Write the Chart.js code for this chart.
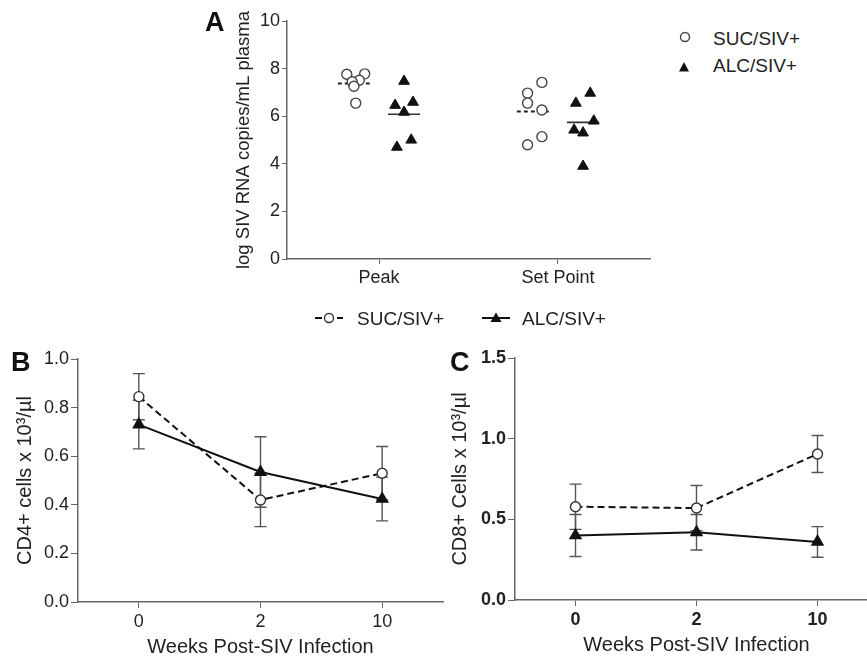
<!DOCTYPE html>
<html>
<head>
<meta charset="utf-8">
<script src="https://cdn.jsdelivr.net/npm/chart.js@4.4.1/dist/chart.umd.min.js"></script>
<style>
html, body { margin: 0; padding: 0; background: #fff; overflow: hidden; }
#page { position: relative; width: 867px; height: 656px; overflow: hidden; font-family: "Liberation Sans", Arial, sans-serif; color: #222; }
canvas { position: absolute; }
.letter { position: absolute; font-weight: bold; font-size: 27px; line-height: 1; color: #111; }
.lg { position: absolute; font-size: 19px; line-height: 1; white-space: nowrap; color: #222; }
svg { position: absolute; overflow: visible; }
</style>
</head>
<body>
<div id="page">
    <canvas id="chartA" width="450" height="290" style="left:220px; top:0px"></canvas>
    <canvas id="chartB" width="460" height="330" style="left:0px; top:340px"></canvas>
    <canvas id="chartC" width="460" height="330" style="left:440px; top:340px"></canvas>

    <div class="letter" style="left:205px; top:9px">A</div>
    <div class="letter" style="left:11px; top:349px">B</div>
    <div class="letter" style="left:450px; top:349px">C</div>

    <!-- legend of panel A -->
    <svg width="20" height="80" style="left:675px; top:27px">
        <circle cx="10" cy="10" r="4.5" fill="#fff" stroke="#444" stroke-width="1.4"></circle>
        <polygon points="4,44.5 14,44.5 9,35" fill="#111"></polygon>
    </svg>
    <div class="lg" style="left:713px; top:29px">SUC/SIV+</div>
    <div class="lg" style="left:713px; top:56px">ALC/SIV+</div>

    <!-- shared legend of panels B and C -->
    <svg width="30" height="20" style="left:314px; top:308px">
        <line x1="1" y1="10" x2="29" y2="10" stroke="#111" stroke-width="2" stroke-dasharray="7,4"></line>
        <circle cx="15" cy="10" r="4.5" fill="#fff" stroke="#333" stroke-width="1.4"></circle>
    </svg>
    <div class="lg" style="left:357px; top:309px">SUC/SIV+</div>
    <svg width="30" height="20" style="left:481px; top:308px">
        <line x1="1" y1="10" x2="29" y2="10" stroke="#111" stroke-width="2"></line>
        <polygon points="9.5,14 20.5,14 15,4.5" fill="#111"></polygon>
    </svg>
    <div class="lg" style="left:522px; top:309px">ALC/SIV+</div>
</div>

<script>
// ---- Panel A: log SIV RNA copies/mL plasma ----
const groupsA = ["Peak", "Set Point"];
const sucPeak = [7.76, 7.78, 7.51, 7.45, 7.26, 6.55];
const alcPeak = [7.47, 6.46, 6.59, 6.17, 4.70, 5.00];
const sucSet = [7.42, 6.97, 6.55, 6.26, 5.14, 4.80];
const alcSet = [6.97, 6.55, 5.80, 5.42, 5.30, 3.90];
const sucMean = [7.37, 6.20];
const alcMean = [6.08, 5.74];

// ---- Panels B and C ----
const weeks = ["0", "2", "10"];
const cd4Suc = [0.845, 0.42, 0.53];
const cd4SucErr = [0.095, 0.11, 0.11];
const cd4Alc = [0.73, 0.535, 0.424];
const cd4AlcErr = [0.10, 0.145, 0.09];
const cd8Suc = [0.578, 0.57, 0.905];
const cd8SucErr = [0.14, 0.14, 0.115];
const cd8Alc = [0.40, 0.42, 0.36];
const cd8AlcErr = [0.13, 0.11, 0.095];

const FONT = "'Liberation Sans', Arial, sans-serif";
Chart.defaults.font.family = FONT;
Chart.defaults.color = "#222";

const AXIS = "#666";

// horizontal scatter of each animal around its category
const jitter = {
    sucPeak: [-0.18, -0.08, -0.11, -0.15, -0.14, -0.13],
    alcPeak: [0.14, 0.09, 0.19, 0.14, 0.10, 0.18],
    sucSet: [-0.09, -0.17, -0.17, -0.09, -0.09, -0.17],
    alcSet: [0.18, 0.10, 0.20, 0.09, 0.14, 0.14]
};

function points(cat, vals, jit) {
    return vals.map((v, i) => ({ x: cat + jit[i], y: v }));
}

function meanLine(cat, side, m) {
    const c = cat + side * 0.14;
    return [{ x: c - 0.09, y: m }, { x: c + 0.09, y: m }];
}

const circleStyle = {
    pointStyle: "circle",
    pointRadius: 5,
    pointBackgroundColor: "#fff",
    pointBorderColor: "#444",
    pointBorderWidth: 1.4,
    showLine: false
};
const triStyle = {
    pointStyle: "triangle",
    pointRadius: 6.2,
    pointBackgroundColor: "#111",
    pointBorderColor: "#111",
    pointBorderWidth: 1,
    showLine: false
};

const datasetsA = [
    Object.assign({ data: points(1, sucPeak, jitter.sucPeak).concat(points(2, sucSet, jitter.sucSet)) }, circleStyle),
    Object.assign({ data: points(1, alcPeak, jitter.alcPeak).concat(points(2, alcSet, jitter.alcSet)) }, triStyle)
];
[1, 2].forEach((cat, i) => {
    datasetsA.push({
        data: meanLine(cat, -1, sucMean[i]),
        showLine: true, pointRadius: 0, borderColor: "#222", borderWidth: 2, borderDash: [4, 3]
    });
    datasetsA.push({
        data: meanLine(cat, 1, alcMean[i]),
        showLine: true, pointRadius: 0, borderColor: "#333", borderWidth: 1.6
    });
});

new Chart(document.getElementById("chartA"), {
    type: "scatter",
    data: { datasets: datasetsA },
    options: {
        responsive: false,
        animation: false,
        layout: { padding: { top: 21, right: 20, bottom: 0, left: 0 } },
        plugins: { legend: { display: false }, tooltip: { enabled: false } },
        scales: {
            x: {
                type: "linear",
                min: 0.486,
                max: 2.514,
                afterBuildTicks: (scale) => { scale.ticks = [{ value: 1 }, { value: 2 }]; },
                afterFit: (scale) => { scale.height = 31; },
                ticks: {
                    callback: (value, index) => groupsA[index],
                    font: { size: 18 },
                    color: "#222",
                    padding: 3,
                    maxRotation: 0
                },
                grid: { drawOnChartArea: false, tickLength: 5, color: AXIS },
                border: { color: AXIS, width: 1.5 }
            },
            y: {
                min: 0,
                max: 10,
                afterFit: (scale) => { scale.width = 67; },
                ticks: { stepSize: 2, font: { size: 18 }, color: "#222", padding: 2 },
                grid: { drawOnChartArea: false, tickLength: 5, color: AXIS },
                border: { color: AXIS, width: 1.5 },
                title: {
                    display: true,
                    text: "log SIV RNA copies/mL plasma",
                    font: { size: 18.5 },
                    color: "#222",
                    padding: { top: 13, bottom: 0 }
                }
            }
        }
    }
});

// vertical error bars with caps, drawn below the markers
const errorBars = {
    id: "errorBars",
    beforeDatasetsDraw: (chart) => {
        const ctx = chart.ctx;
        const yScale = chart.scales.y;
        chart.data.datasets.forEach((ds, i) => {
            if (!ds.errors) return;
            const meta = chart.getDatasetMeta(i);
            meta.data.forEach((pt, j) => {
                const top = yScale.getPixelForValue(ds.data[j] + ds.errors[j]);
                const bot = yScale.getPixelForValue(ds.data[j] - ds.errors[j]);
                ctx.save();
                ctx.strokeStyle = "#555";
                ctx.lineWidth = 1.4;
                ctx.beginPath();
                ctx.moveTo(pt.x, top); ctx.lineTo(pt.x, bot);
                ctx.moveTo(pt.x - 6, top); ctx.lineTo(pt.x + 6, top);
                ctx.moveTo(pt.x - 6, bot); ctx.lineTo(pt.x + 6, bot);
                ctx.stroke();
                ctx.restore();
            });
        });
    }
};

function renderTimeChart(id, suc, sucErr, alc, alcErr, cfg) {
    new Chart(document.getElementById(id), {
        type: "line",
        data: {
            labels: weeks,
            datasets: [
                {
                    data: alc,
                    errors: alcErr,
                    borderColor: "#111",
                    borderWidth: 2,
                    pointStyle: "triangle",
                    pointRadius: 5.8,
                    pointBackgroundColor: "#111",
                    pointBorderColor: "#111"
                },
                {
                    data: suc,
                    errors: sucErr,
                    borderColor: "#111",
                    borderWidth: 2,
                    borderDash: [7, 4],
                    pointStyle: "circle",
                    pointRadius: 5,
                    pointBackgroundColor: "#fff",
                    pointBorderColor: "#333",
                    pointBorderWidth: 1.4
                }
            ]
        },
        options: {
            responsive: false,
            animation: false,
            layout: { padding: { top: cfg.top, right: cfg.right, bottom: 0, left: 0 } },
            plugins: { legend: { display: false }, tooltip: { enabled: false } },
            scales: {
                x: {
                    offset: true,
                    afterFit: (scale) => { scale.height = cfg.xHeight; },
                    ticks: { font: { size: 18, weight: cfg.bold ? "bold" : "normal" }, color: "#222", padding: 3 },
                    grid: { offset: false, drawOnChartArea: false, tickLength: 6, color: AXIS },
                    border: { color: AXIS, width: 1.5 },
                    title: {
                        display: true,
                        text: "Weeks Post-SIV Infection",
                        font: { size: 20 },
                        color: "#222",
                        padding: { top: 0, bottom: cfg.xTitlePad }
                    }
                },
                y: {
                    min: 0,
                    max: cfg.max,
                    afterFit: (scale) => { scale.width = cfg.yWidth; },
                    ticks: {
                        stepSize: cfg.step,
                        font: { size: 18, weight: cfg.bold ? "bold" : "normal" },
                        color: "#222",
                        padding: 2,
                        callback: (v) => v.toFixed(1)
                    },
                    grid: { drawOnChartArea: false, tickLength: 7, color: AXIS },
                    border: { color: AXIS, width: 1.5 },
                    title: {
                        display: true,
                        text: cfg.yTitle,
                        font: { size: 20 },
                        color: "#222",
                        padding: { top: cfg.yTitlePad, bottom: 0 }
                    }
                }
            }
        },
        plugins: [errorBars]
    });
}

renderTimeChart("chartB", cd4Suc, cd4SucErr, cd4Alc, cd4AlcErr, {
    top: 19, right: 17, xHeight: 68, yWidth: 78, max: 1.0, step: 0.2,
    bold: false, xTitlePad: 10.5, yTitlePad: 13.5, yTitle: "CD4+ cells x 10³/µl"
});

renderTimeChart("chartC", cd8Suc, cd8SucErr, cd8Alc, cd8AlcErr, {
    top: 18, right: 22, xHeight: 70, yWidth: 75, max: 1.5, step: 0.5,
    bold: true, xTitlePad: 13, yTitlePad: 8.5, yTitle: "CD8+ Cells x 10³/µl"
});
</script>
</body>
</html>
